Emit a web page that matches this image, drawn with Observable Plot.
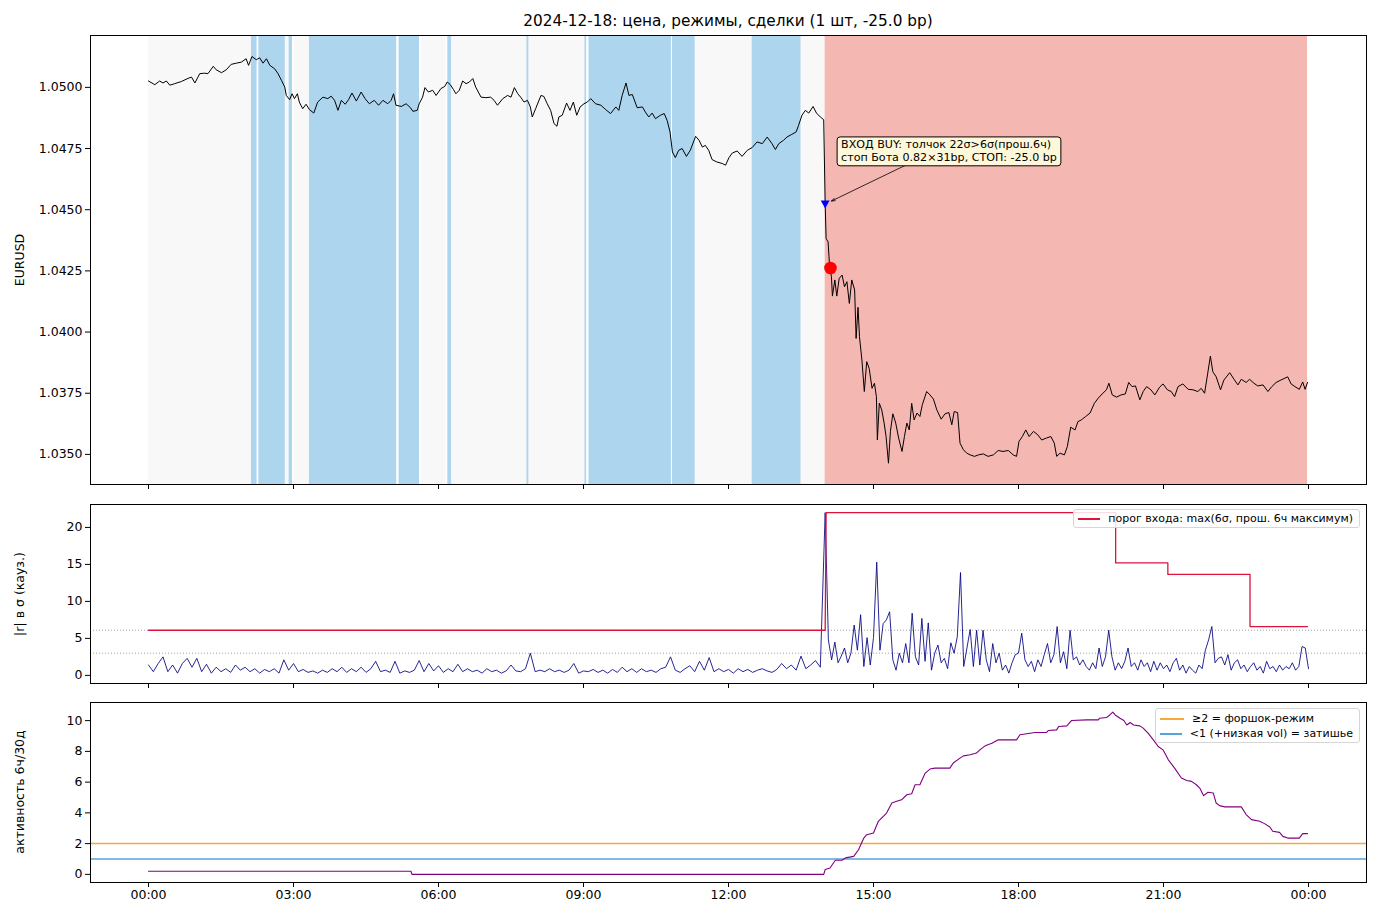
<!DOCTYPE html>
<html><head><meta charset="utf-8">
<script src="https://cdn.jsdelivr.net/npm/d3@7"></script>
<script src="https://cdn.jsdelivr.net/npm/@observablehq/plot@0.6"></script>
<style>
body{margin:0;background:#fff;font-family:"DejaVu Sans",sans-serif;color:#000;}
#wrap{position:relative;width:1380px;height:920px;overflow:hidden;background:#fff;}
.panel{position:absolute;left:0;}
.title{position:absolute;left:90px;width:1276px;top:11px;text-align:center;font-size:15.3px;line-height:20px;}
.ylab{position:absolute;width:400px;text-align:center;font-size:12.5px;line-height:16px;transform:rotate(-90deg);transform-origin:center center;}
.legend{position:absolute;box-sizing:border-box;background:rgba(255,255,255,0.85);border:1px solid #d6d6d6;border-radius:3px;font-size:11px;padding:2px 6px 2px 4px;}
.legend .row{display:flex;align-items:center;height:15px;white-space:nowrap;}
.legend .sw{display:inline-block;width:24px;height:2px;margin-right:8px;}
</style></head>
<body>
<div id="wrap"></div>
<script>
// ---------- data ----------
const titleText = "2024-12-18: цена, режимы, сделки (1 шт, -25.0 bp)";
const hourTicks = [0, 3, 6, 9, 12, 15, 18, 21, 24];
const hourLabels = ["00:00","03:00","06:00","09:00","12:00","15:00","18:00","21:00","00:00"];
const priceTicks = [1.0350, 1.0375, 1.0400, 1.0425, 1.0450, 1.0475, 1.0500];
const sigmaTicks = [0, 5, 10, 15, 20];
const activityTicks = [0, 2, 4, 6, 8, 10];

// regime bands (hours)
const bandStart = [0, 2.13, 2.25, 2.28, 2.91, 2.98, 3.33, 5.14, 5.18, 5.61, 6.16, 6.19, 7.83, 9.03, 9.07, 9.11, 10.82, 10.84, 12.49, 14.00];
const bandEnd   = [14.00, 2.25, 2.28, 2.83, 2.98, 3.02, 5.14, 5.18, 5.61, 5.65, 6.19, 6.27, 7.87, 9.07, 9.11, 10.82, 10.84, 11.31, 13.50, 23.98];
const bandKind  = ["норма","затишье","пусто","затишье","затишье","пусто","затишье","пусто","затишье","пусто","пусто","затишье","затишье","затишье","пусто","затишье","пусто","затишье","затишье","форшок"];

// EURUSD price [hour, price]
const priceSeries = [
[0,1.05026],[0.13,1.05011],[0.23,1.05026],[0.30,1.05018],[0.37,1.05026],[0.44,1.05009],[0.54,1.05015],[0.68,1.05024],[0.82,1.05037],[0.89,1.05042],
[0.96,1.05018],[1.06,1.05056],[1.16,1.05058],[1.23,1.05056],[1.34,1.05086],[1.40,1.05072],[1.51,1.05060],[1.61,1.05072],[1.71,1.05094],[1.82,1.05099],
[1.92,1.05103],[2.02,1.05117],[2.07,1.05090],[2.14,1.05126],[2.23,1.05113],[2.30,1.05121],[2.37,1.05099],[2.44,1.05117],[2.51,1.05090],[2.61,1.05076],
[2.68,1.05056],[2.75,1.05029],[2.82,1.05001],[2.85,1.04967],[2.92,1.04950],[2.97,1.04974],[3.02,1.04954],[3.08,1.04974],[3.12,1.04940],[3.19,1.04913],
[3.26,1.04931],[3.33,1.04909],[3.42,1.04895],[3.50,1.04940],[3.61,1.04960],[3.71,1.04954],[3.78,1.04964],[3.85,1.04947],[3.92,1.04906],[3.99,1.04947],
[4.07,1.04931],[4.14,1.04950],[4.21,1.04977],[4.30,1.04944],[4.40,1.04981],[4.48,1.04954],[4.57,1.04933],[4.67,1.04947],[4.76,1.04927],[4.85,1.04947],
[4.95,1.04933],[5.02,1.04947],[5.07,1.04974],[5.12,1.04927],[5.23,1.04922],[5.33,1.04933],[5.42,1.04917],[5.47,1.04902],[5.56,1.04906],[5.60,1.04933],
[5.67,1.04960],[5.72,1.04999],[5.79,1.04981],[5.88,1.04988],[5.95,1.04967],[6.05,1.04995],[6.13,1.05004],[6.18,1.05022],[6.24,1.05012],[6.31,1.04991],
[6.36,1.04974],[6.43,1.04988],[6.50,1.05026],[6.57,1.05015],[6.64,1.05022],[6.71,1.05036],[6.77,1.05001],[6.88,1.04960],[6.98,1.04958],[7.08,1.04960],
[7.15,1.04947],[7.22,1.04927],[7.33,1.04954],[7.43,1.04967],[7.50,1.04960],[7.57,1.04999],[7.64,1.04974],[7.70,1.04960],[7.77,1.04940],[7.84,1.04947],
[7.90,1.04920],[7.94,1.04879],[8.01,1.04913],[8.12,1.04967],[8.18,1.04963],[8.25,1.04933],[8.32,1.04906],[8.39,1.04852],[8.45,1.04841],[8.49,1.04879],
[8.56,1.04886],[8.65,1.04936],[8.72,1.04906],[8.79,1.04940],[8.86,1.04886],[8.93,1.04920],[9.01,1.04933],[9.08,1.04940],[9.15,1.04954],[9.25,1.04933],
[9.36,1.04927],[9.46,1.04909],[9.56,1.04893],[9.67,1.04920],[9.73,1.04906],[9.80,1.04967],[9.88,1.05018],[9.94,1.04967],[10.01,1.04971],[10.11,1.04917],
[10.22,1.04920],[10.28,1.04899],[10.35,1.04879],[10.42,1.04895],[10.49,1.04872],[10.59,1.04886],[10.67,1.04893],[10.73,1.04865],[10.79,1.04818],[10.84,1.04736],
[10.90,1.04713],[10.97,1.04743],[11.04,1.04750],[11.13,1.04718],[11.21,1.04743],[11.32,1.04800],[11.39,1.04784],[11.46,1.04756],[11.52,1.04763],[11.59,1.04743],
[11.66,1.04705],[11.76,1.04695],[11.87,1.04689],[11.94,1.04682],[12.01,1.04713],[12.08,1.04732],[12.18,1.04740],[12.28,1.04718],[12.39,1.04743],[12.49,1.04754],
[12.59,1.04777],[12.70,1.04770],[12.80,1.04797],[12.90,1.04770],[12.97,1.04746],[13.04,1.04770],[13.14,1.04784],[13.21,1.04797],[13.31,1.04808],[13.40,1.04818],
[13.45,1.04845],[13.52,1.04886],[13.59,1.04906],[13.66,1.04895],[13.75,1.04922],[13.82,1.04895],[13.90,1.04879],[13.97,1.04868],[14.00,1.04525],[14.02,1.04382],
[14.06,1.04369],[14.09,1.04274],[14.13,1.04226],[14.15,1.04147],[14.20,1.04213],[14.24,1.04147],[14.29,1.04219],[14.35,1.04233],[14.40,1.04185],[14.45,1.04206],
[14.50,1.04117],[14.55,1.04213],[14.61,1.04172],[14.64,1.03974],[14.68,1.04101],[14.71,1.03981],[14.76,1.03886],[14.81,1.03757],[14.86,1.03879],[14.91,1.03852],
[14.97,1.03770],[15.02,1.03791],[15.06,1.03736],[15.08,1.03559],[15.12,1.03709],[15.17,1.03682],[15.22,1.03628],[15.26,1.03573],[15.31,1.03464],[15.35,1.03594],
[15.40,1.03666],[15.46,1.03628],[15.52,1.03567],[15.59,1.03512],[15.64,1.03573],[15.69,1.03628],[15.74,1.03600],[15.79,1.03709],[15.84,1.03641],[15.90,1.03669],
[15.96,1.03655],[16.01,1.03703],[16.10,1.03757],[16.17,1.03743],[16.24,1.03726],[16.31,1.03682],[16.40,1.03644],[16.48,1.03666],[16.56,1.03671],[16.62,1.03621],
[16.67,1.03675],[16.74,1.03671],[16.79,1.03546],[16.86,1.03519],[16.93,1.03505],[17.00,1.03498],[17.09,1.03492],[17.17,1.03498],[17.27,1.03502],[17.37,1.03492],
[17.48,1.03498],[17.58,1.03516],[17.68,1.03512],[17.79,1.03516],[17.89,1.03498],[17.96,1.03492],[18.01,1.03553],[18.08,1.03573],[18.15,1.03600],[18.22,1.03573],
[18.31,1.03594],[18.40,1.03580],[18.48,1.03559],[18.58,1.03567],[18.67,1.03573],[18.74,1.03546],[18.79,1.03492],[18.86,1.03505],[18.95,1.03498],[19.01,1.03532],
[19.08,1.03611],[19.17,1.03600],[19.23,1.03634],[19.30,1.03641],[19.39,1.03655],[19.48,1.03669],[19.57,1.03709],[19.65,1.03730],[19.73,1.03747],[19.82,1.03764],
[19.87,1.03791],[19.94,1.03743],[20.03,1.03734],[20.12,1.03743],[20.21,1.03747],[20.28,1.03794],[20.35,1.03777],[20.42,1.03780],[20.51,1.03723],[20.58,1.03757],
[20.65,1.03777],[20.74,1.03764],[20.82,1.03743],[20.92,1.03775],[20.99,1.03788],[21.08,1.03764],[21.16,1.03757],[21.23,1.03736],[21.30,1.03777],[21.40,1.03788],
[21.51,1.03766],[21.61,1.03764],[21.71,1.03757],[21.78,1.03770],[21.85,1.03750],[21.91,1.03825],[21.97,1.03902],[22.02,1.03838],[22.09,1.03817],[22.18,1.03764],
[22.25,1.03804],[22.37,1.03834],[22.46,1.03807],[22.54,1.03784],[22.61,1.03807],[22.71,1.03794],[22.78,1.03807],[22.87,1.03791],[22.95,1.03780],[23.06,1.03784],
[23.16,1.03757],[23.24,1.03777],[23.33,1.03794],[23.43,1.03804],[23.57,1.03817],[23.64,1.03788],[23.72,1.03777],[23.81,1.03766],[23.88,1.03796],[23.93,1.03766],
[23.98,1.03794]
];

// trades
const entryTrade = {hour: 14.00, price: 1.04523};
const exitTrade  = {hour: 14.11, price: 1.04262};
const annotText = "ВХОД BUY: толчок 22σ>6σ(прош.6ч)\nстоп Бота 0.82×31bp, СТОП: -25.0 bp";
const annotAt = {hour: 14.33, price: 1.04741};
const annotArrowFrom = {hour: 15.75, price: 1.04690};

// |r| in sigma, 00:00-14:00 every 6 min
const absRSigmaA = [1.4,0.5,1.6,2.5,0.5,1.4,0.3,1.6,2.3,1.1, 2.3,0.5,1.5,0.3,1.1,0.5,0.9,0.4,1.4,0.7, 1.1,0.5,0.9,0.3,0.8,0.5,0.9,0.3,2.1,0.7,
 1.6,0.5,0.8,0.4,0.6,0.3,0.7,0.4,0.9,0.5, 1.1,0.4,0.9,0.5,1.1,0.4,0.9,1.9,0.5,0.7, 0.4,1.9,0.3,0.6,0.4,0.7,2.0,0.5,1.6,0.6,
 1.3,0.4,0.9,0.5,1.5,0.5,0.9,0.5,0.7,0.3, 0.9,0.5,0.7,0.3,0.6,1.4,0.6,0.5,0.9,3.0, 0.5,0.7,0.5,0.9,0.5,0.7,0.4,0.7,1.6,0.3,
 0.6,0.5,0.8,0.4,0.7,0.3,0.8,0.4,1.1,0.5, 0.9,0.4,0.9,0.5,0.7,0.4,0.9,1.1,2.5,0.7, 0.4,0.9,1.3,0.5,1.9,0.7,2.4,0.5,0.9,0.5,
 0.8,0.3,0.9,0.5,0.8,0.4,0.7,0.9,0.6,0.4, 0.8,1.6,0.9,1.4,0.7,2.6,0.9,1.4,2.0,1.1];
// |r| in sigma, 14:00-24:00 every 4 min
const absRSigmaB = [22,4.8,2.1,4.5,1.7,2.6,3.7,1.7,3.0,6.8, 3.4,8.2,1.2,5.1,1.4,5.1,15.3,3.4,7.0,7.5, 8.6,2.1,0.7,3.0,1.7,4.3,1.7,8.4,2.5,1.4,
 7.7,1.9,7.1,0.7,3.0,4.1,1.7,2.3,0.9,4.4, 3.0,5.2,13.9,1.2,3.7,6.2,1.2,6.1,1.4,6.1, 2.1,0.5,4.3,1.7,3.0,0.7,1.4,0.3,1.7,2.8,
 3.0,5.7,2.1,1.2,1.9,0.5,2.1,1.2,2.8,4.3, 1.7,2.8,6.6,1.7,3.2,0.9,6.1,2.1,2.5,1.4, 2.1,1.2,0.7,1.7,0.9,3.7,1.2,2.5,6.1,2.5,
 0.7,1.7,0.9,1.9,3.7,1.2,1.7,0.7,2.1,1.2, 1.7,0.5,1.9,0.7,1.7,0.9,1.4,0.5,1.7,2.3, 0.7,1.4,0.3,1.2,0.7,0.3,1.4,0.9,3.4,4.8,
 6.6,1.7,2.3,2.5,1.4,2.8,0.7,1.7,2.1,0.9, 1.4,0.5,1.2,1.7,0.7,1.2,0.3,1.9,0.9,1.2, 0.5,1.4,0.7,1.2,0.9,1.7,0.7,1.2,3.9,3.7,
 0.9];
// entry threshold [hour, sigma]
const thresholdSeries = [[0,6.1],[14.0,6.1],[14.02,22],[20.01,22],[20.01,15.2],[21.09,15.2],[21.09,13.65],[22.79,13.65],[22.79,6.6],[23.98,6.6]];
const sigmaGuides = [3.0, 6.1];

// activity 6h/30d [hour, value]
const activitySeries = [
[0,0.2],[5.43,0.2],[5.45,0.0],[13.97,0.0],[14.0,0.31],[14.1,0.41],[14.21,0.92],[14.35,0.92],[14.42,1.07],[14.59,1.17],
[14.69,1.6],[14.8,2.36],[14.86,2.58],[15.0,2.69],[15.1,3.45],[15.27,3.99],[15.38,4.64],[15.48,4.75],[15.58,4.85],[15.69,5.18],
[15.79,5.24],[15.86,5.83],[15.96,5.83],[16.07,6.59],[16.17,6.85],[16.27,6.91],[16.58,6.91],[16.65,7.24],[16.79,7.56],[16.86,7.71],
[17.0,7.78],[17.13,7.89],[17.2,8.1],[17.31,8.36],[17.45,8.53],[17.58,8.75],[17.96,8.75],[18.03,9.08],[18.34,9.23],[18.58,9.23],
[18.62,9.36],[18.79,9.4],[18.83,9.62],[19.0,9.66],[19.1,10.01],[19.41,10.05],[19.65,10.05],[19.68,10.16],[19.82,10.2],[19.89,10.37],
[19.95,10.55],[20.0,10.37],[20.1,10.16],[20.18,10.01],[20.24,9.72],[20.31,9.88],[20.38,9.72],[20.51,9.66],[20.58,9.51],[20.68,9.19],
[20.79,8.75],[20.89,8.32],[20.99,8.1],[21.1,7.45],[21.23,6.91],[21.37,6.27],[21.48,6.11],[21.58,6.05],[21.68,5.83],[21.75,5.61],
[21.83,5.12],[21.92,5.34],[22.03,5.29],[22.09,4.64],[22.16,4.47],[22.27,4.39],[22.61,4.39],[22.71,3.89],[22.82,3.56],[22.99,3.45],
[23.09,3.3],[23.2,3.08],[23.26,2.8],[23.4,2.73],[23.47,2.47],[23.57,2.36],[23.81,2.36],[23.88,2.65],[23.98,2.65]
];
const foreshockLevel = 2;
const quietLevel = 1;

const legendMid = [{label: "порог входа: max(6σ, прош. 6ч максимум)", color: "#dc143c"}];
const legendBot = [{label: "≥2 = форшок-режим", color: "#f6a83a"}, {label: "<1 (+низкая vol) = затишье", color: "#56a3dc"}];

// ---------- build ----------
const bandColor = {"норма": "#f8f8f8", "затишье": "#aed5ee", "пусто": "#ffffff", "форшок": "#f5b7b2"};
const bands = bandStart.map((s, i) => ({start: s, end: bandEnd[i], kind: bandKind[i]}));
const sigmaRows = absRSigmaA.map((v, i) => ({hour: i * 6 / 60, v}))
  .concat(absRSigmaB.map((v, i) => ({hour: 14 + i * 4 / 60, v})));

const wrap = document.getElementById("wrap");
const W = 1380, ML = 90, MR = 14;
const xDomain = [-1.2, 25.2];
const baseStyle = {fontFamily: "DejaVu Sans", fontSize: "12.5px", color: "black", background: "transparent", overflow: "visible"};
const tickLab = d => hourLabels[hourTicks.indexOf(d)];

function place(el, top) {
  const d = document.createElement("div");
  d.className = "panel"; d.style.top = top + "px";
  d.appendChild(el); wrap.appendChild(d); return el;
}
function addText(cls, txt, css) {
  const d = document.createElement("div"); d.className = cls; d.textContent = txt;
  Object.assign(d.style, css); wrap.appendChild(d); return d;
}
function addLegend(items, css) {
  const d = document.createElement("div"); d.className = "legend"; Object.assign(d.style, css);
  for (const it of items) {
    const r = document.createElement("div"); r.className = "row";
    const s = document.createElement("span"); s.className = "sw"; s.style.background = it.color;
    r.appendChild(s); r.appendChild(document.createTextNode(it.label)); d.appendChild(r);
  }
  wrap.appendChild(d);
}

const triDown = {draw(ctx, size) {
  const r = Math.sqrt(size / Math.PI);
  ctx.moveTo(0, r * 1.05); ctx.lineTo(r * 1.05, -r * 0.85); ctx.lineTo(-r * 1.05, -r * 0.85); ctx.closePath();
}};

addText("title", titleText, {});

// Panel 1: price
const p1 = Plot.plot({
  width: W, height: 469, marginLeft: ML, marginRight: MR, marginTop: 5, marginBottom: 15,
  style: baseStyle,
  x: {domain: xDomain, label: null},
  y: {domain: [1.03377, 1.05212], label: null},
  marks: [
    Plot.rect(bands.filter(d => d.kind === "норма"), {x1: "start", x2: "end", fill: bandColor["норма"]}),
    Plot.rect(bands.filter(d => d.kind === "затишье"), {x1: "start", x2: "end", fill: bandColor["затишье"]}),
    Plot.rect(bands.filter(d => d.kind === "пусто"), {x1: "start", x2: "end", fill: bandColor["пусто"]}),
    Plot.rect(bands.filter(d => d.kind === "форшок"), {x1: "start", x2: "end", fill: bandColor["форшок"]}),
    Plot.line(priceSeries, {x: d => d[0], y: d => d[1], stroke: "black", strokeWidth: 1}),
    Plot.dot([entryTrade], {x: "hour", y: "price", symbol: triDown, r: 4.2, fill: "#0000ff", stroke: "none"}),
    Plot.dot([exitTrade], {x: "hour", y: "price", r: 6.3, fill: "#ff0000", stroke: "none"}),
    Plot.arrow([{a: annotArrowFrom, b: entryTrade}], {x1: d => d.a.hour, y1: d => d.a.price, x2: d => d.b.hour, y2: d => d.b.price,
      stroke: "black", strokeWidth: 0.8, headLength: 7, headAngle: 40, insetEnd: 7}),
    Plot.text([annotAt], {x: "hour", y: "price", text: () => annotText, textAnchor: "start", lineAnchor: "middle",
      fontSize: 11.1, lineHeight: 1.16, fill: "black"}),
    Plot.frame({stroke: "black", strokeWidth: 1}),
    Plot.axisX({ticks: hourTicks, tickFormat: () => "", tickSize: 5, label: null}),
    Plot.axisY({ticks: priceTicks, tickFormat: d3.format(".4f"), tickSize: 5, tickPadding: 3, label: null})
  ]
});
place(p1, 30);

// annotation box behind the annotation text
for (const t of p1.querySelectorAll("text")) {
  if (!t.textContent.startsWith("ВХОД")) continue;
  const bb = t.getBBox();
  const rect = document.createElementNS("http://www.w3.org/2000/svg", "rect");
  rect.setAttribute("x", bb.x - 4); rect.setAttribute("y", bb.y - 1.5);
  rect.setAttribute("width", bb.width + 8); rect.setAttribute("height", bb.height + 3);
  rect.setAttribute("rx", 3);
  rect.setAttribute("fill", "#fef8db"); rect.setAttribute("stroke", "black"); rect.setAttribute("stroke-width", 1);
  if (t.getAttribute("transform")) rect.setAttribute("transform", t.getAttribute("transform"));
  t.parentNode.insertBefore(rect, t);
}

// Panel 2: |r| in sigma
const p2 = Plot.plot({
  width: W, height: 199, marginLeft: ML, marginRight: MR, marginTop: 5, marginBottom: 15,
  style: baseStyle,
  x: {domain: xDomain, label: null},
  y: {domain: [-1.1, 23.1], label: null},
  marks: [
    Plot.ruleY(sigmaGuides, {stroke: "#8a8a8a", strokeWidth: 0.8, strokeDasharray: "1,2"}),
    Plot.line(sigmaRows, {x: "hour", y: "v", stroke: "#000080", strokeWidth: 0.85}),
    Plot.line(thresholdSeries, {x: d => d[0], y: d => d[1], stroke: "#dc143c", strokeWidth: 1.3}),
    Plot.frame({stroke: "black", strokeWidth: 1}),
    Plot.axisX({ticks: hourTicks, tickFormat: () => "", tickSize: 5, label: null}),
    Plot.axisY({ticks: sigmaTicks, tickSize: 5, tickPadding: 3, label: null})
  ]
});
place(p2, 499);

// Panel 3: activity
const p3 = Plot.plot({
  width: W, height: 223, marginLeft: ML, marginRight: MR, marginTop: 5, marginBottom: 38,
  style: baseStyle,
  x: {domain: xDomain, label: null},
  y: {domain: [-0.53, 11.18], label: null},
  marks: [
    Plot.ruleY([foreshockLevel], {stroke: "#f6a83a", strokeWidth: 1.5}),
    Plot.ruleY([quietLevel], {stroke: "#56a3dc", strokeWidth: 1.5}),
    Plot.line(activitySeries, {x: d => d[0], y: d => d[1], stroke: "#800080", strokeWidth: 1.1}),
    Plot.frame({stroke: "black", strokeWidth: 1}),
    Plot.axisX({ticks: hourTicks, tickFormat: tickLab, tickSize: 5, tickPadding: 3, label: null}),
    Plot.axisY({ticks: activityTicks, tickSize: 5, tickPadding: 3, label: null})
  ]
});
place(p3, 697);

// axis labels
addText("ylab", "EURUSD", {left: (20 - 200) + "px", top: (259.5 - 8) + "px"});
addText("ylab", "|r| в σ (кауз.)", {left: (20 - 200) + "px", top: (593.5 - 8) + "px"});
addText("ylab", "активность 6ч/30д", {left: (20 - 200) + "px", top: (792 - 8) + "px"});

// legends
addLegend(legendMid, {left: "1073px", top: "509px", width: "287px", height: "19px", padding: "1px 6px 1px 4px"});
addLegend(legendBot, {left: "1155px", top: "708px", width: "205px", height: "35px"});
</script>
</body></html>
